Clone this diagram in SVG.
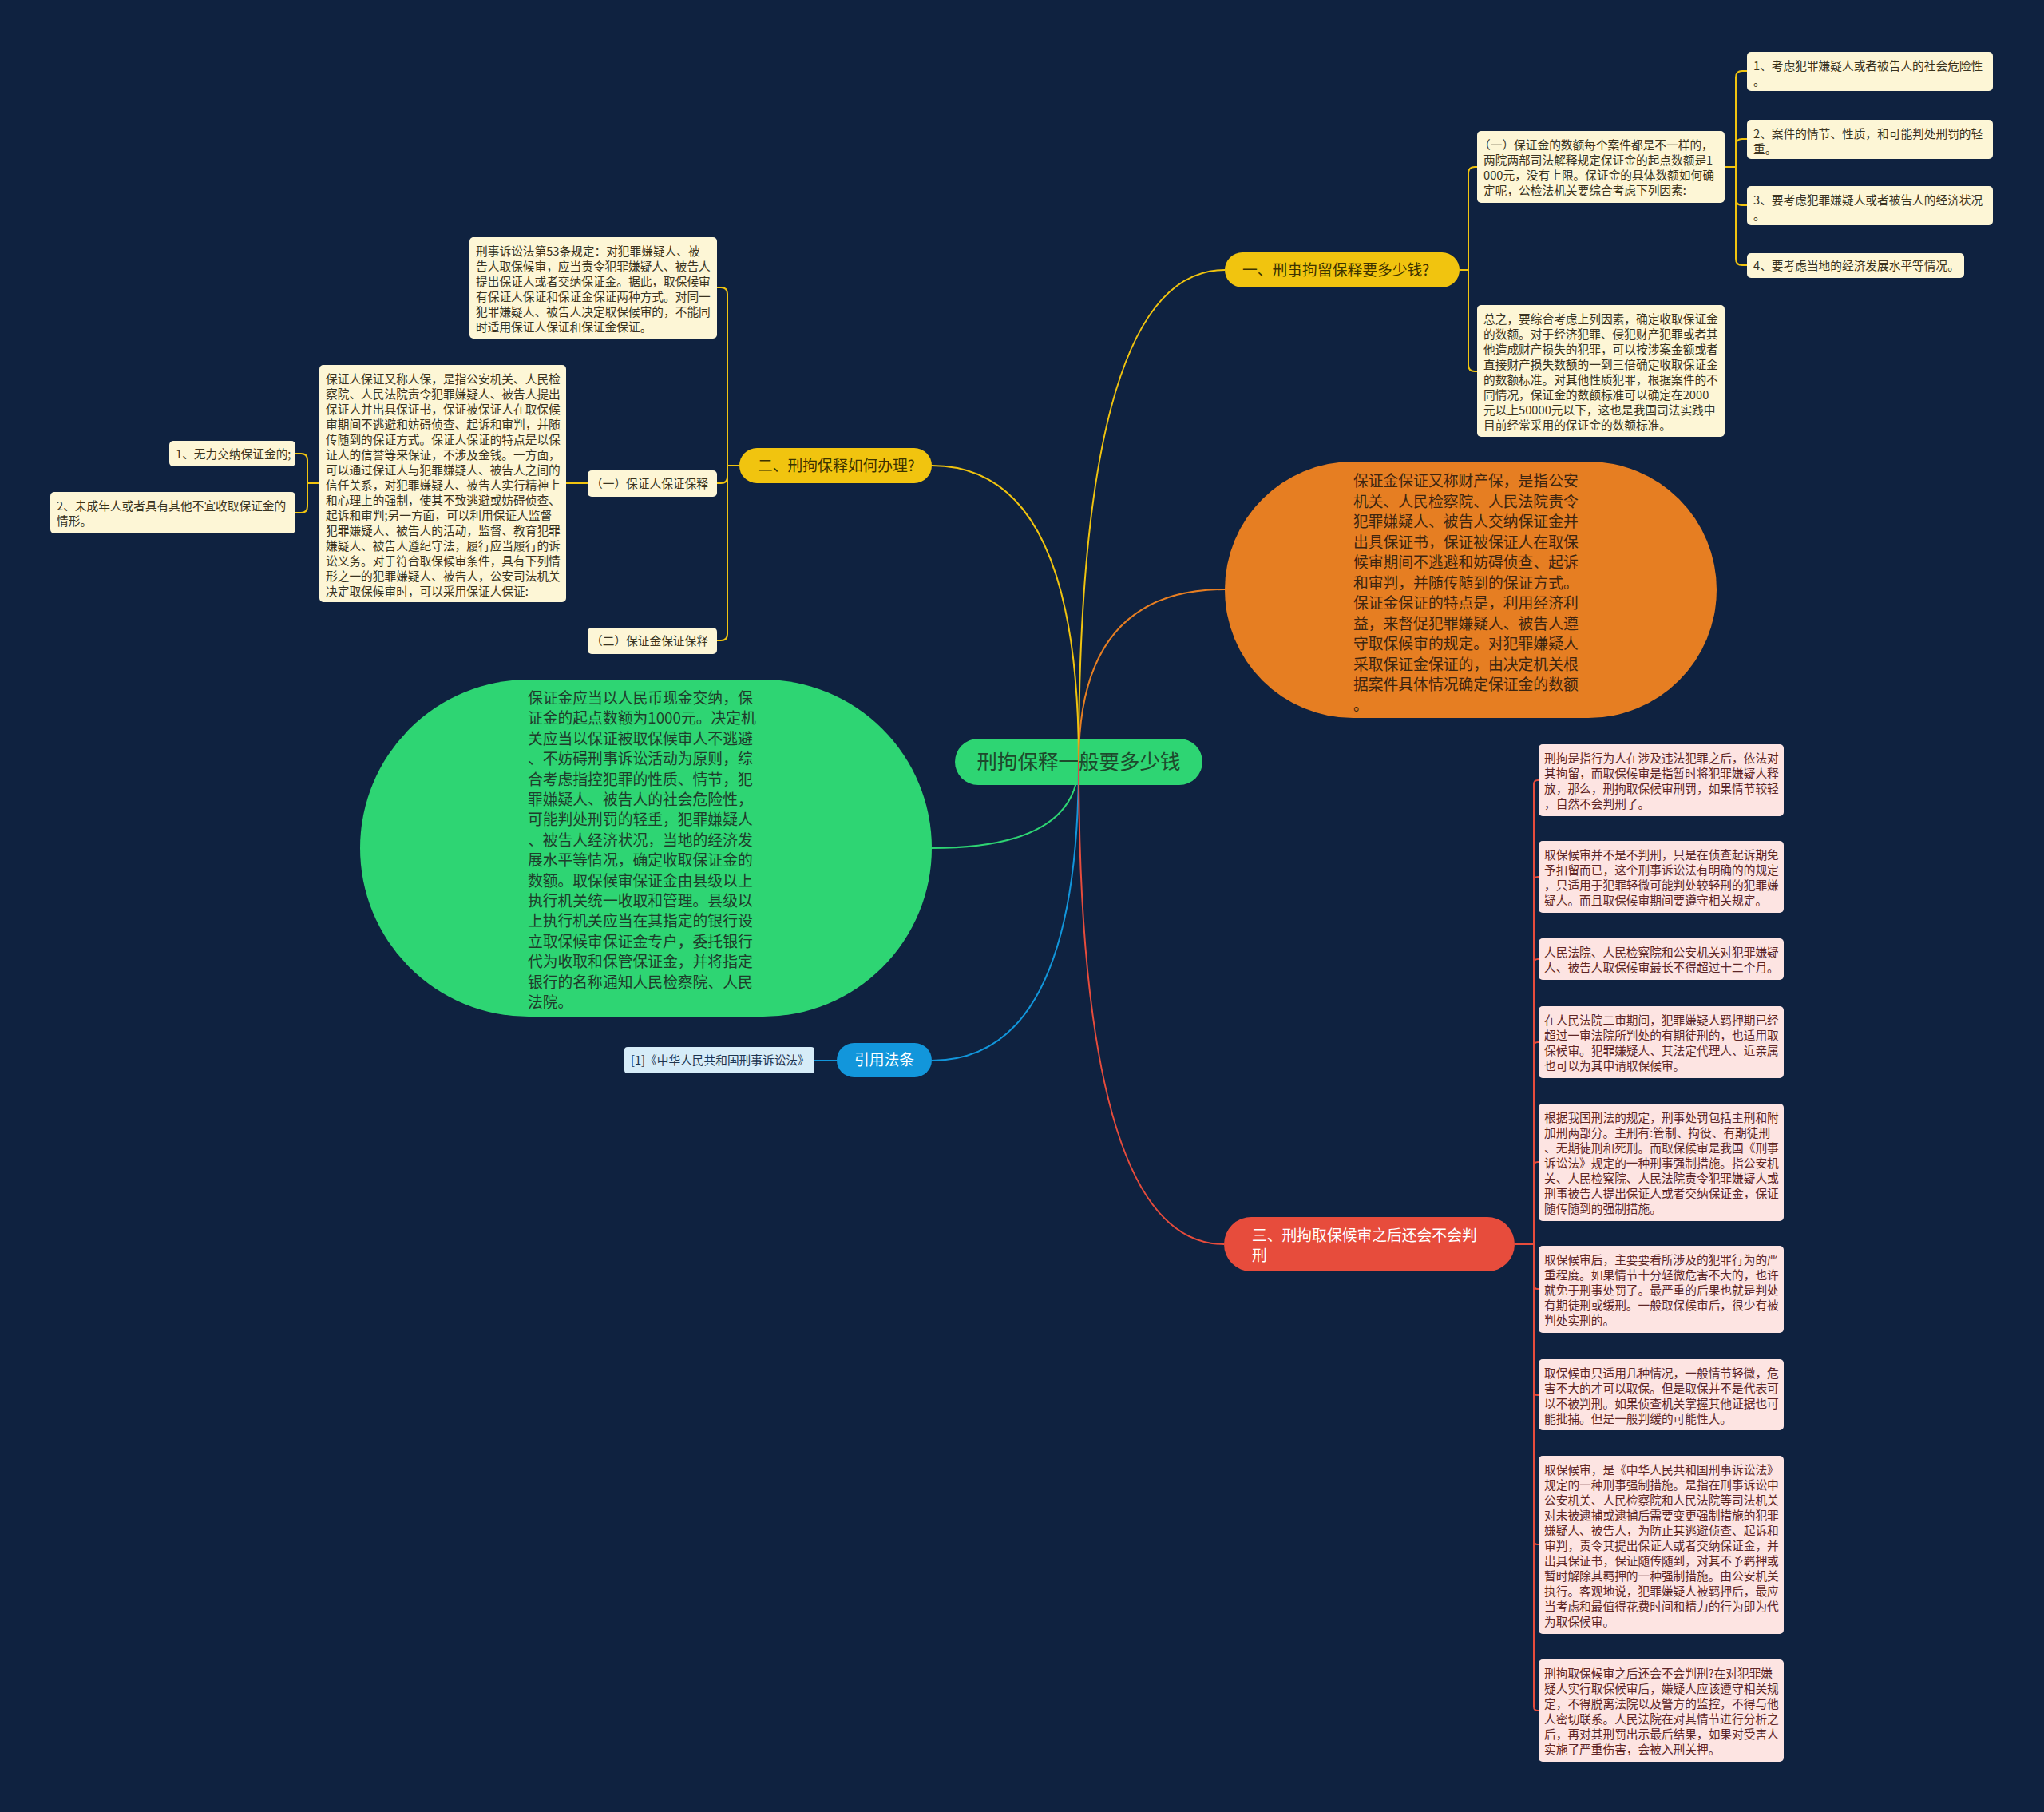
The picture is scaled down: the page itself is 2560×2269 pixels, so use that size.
<svg xmlns="http://www.w3.org/2000/svg" width="2560" height="2269" viewBox="0 0 2560 2269">
<style>
.t{font-family:"Noto Sans CJK SC","Noto Sans",sans-serif;font-size:14.7px}
.big{font-family:"Noto Sans CJK SC","Noto Sans",sans-serif;font-size:18.8px}
.cream{fill:#fdf6d6}
.pink{fill:#fde4e2}
.tc{fill:#3a3320}
.tp{fill:#5e2626}
.c{fill:none;stroke-width:2}
.y{stroke:#f1c40f}
.r{stroke:#e74c3c}
</style>
<rect width="2560" height="2269" fill="#0f2240"/>

<g id="root">
<rect x="1196" y="925" width="310" height="58" rx="29" fill="#2ed573"/>
<text x="1351" y="963" text-anchor="middle" font-family="Noto Sans CJK SC, sans-serif" font-size="25.5" fill="#1d4a2c">刑拘保释一般要多少钱</text>
</g>

<g id="branch1">
<rect x="1534" y="316" width="294" height="44" rx="22" fill="#f1c40f"/>
<text class="big" x="1556" y="345" fill="#3d3300">一、刑事拘留保释要多少钱?</text>
</g>
<g id="b1-sub1">
<rect class="cream" x="1850" y="164" width="310" height="90" rx="5"/>
<text class="t tc" x="1852" y="187"><tspan x="1852">（一）保证金的数额每个案件都是不一样的，</tspan><tspan x="1858" dy="19">两院两部司法解释规定保证金的起点数额是1</tspan><tspan x="1858" dy="19">000元，没有上限。保证金的具体数额如何确</tspan><tspan x="1858" dy="19">定呢，公检法机关要综合考虑下列因素:</tspan></text>
</g>
<g id="b1-a1">
<rect class="cream" x="2188" y="65" width="308" height="49" rx="5"/>
<text class="t tc" x="2196" y="88"><tspan x="2196">1、考虑犯罪嫌疑人或者被告人的社会危险性</tspan><tspan x="2196" dy="19">。</tspan></text>
</g>
<g id="b1-a2">
<rect class="cream" x="2188" y="150" width="308" height="49" rx="5"/>
<text class="t tc" x="2196" y="173"><tspan x="2196">2、案件的情节、性质，和可能判处刑罚的轻</tspan><tspan x="2196" dy="19">重。</tspan></text>
</g>
<g id="b1-a3">
<rect class="cream" x="2188" y="233" width="308" height="49" rx="5"/>
<text class="t tc" x="2196" y="256"><tspan x="2196">3、要考虑犯罪嫌疑人或者被告人的经济状况</tspan><tspan x="2196" dy="19">。</tspan></text>
</g>
<g id="b1-a4">
<rect class="cream" x="2188" y="317" width="272" height="31" rx="5"/>
<text class="t tc" x="2196" y="338">4、要考虑当地的经济发展水平等情况。</text>
</g>
<g id="b1-sub2">
<rect class="cream" x="1850" y="382" width="310" height="165" rx="5"/>
<text class="t tc" x="1858" y="405"><tspan x="1858">总之，要综合考虑上列因素，确定收取保证金</tspan><tspan x="1858" dy="19">的数额。对于经济犯罪、侵犯财产犯罪或者其</tspan><tspan x="1858" dy="19">他造成财产损失的犯罪，可以按涉案金额或者</tspan><tspan x="1858" dy="19">直接财产损失数额的一到三倍确定收取保证金</tspan><tspan x="1858" dy="19">的数额标准。对其他性质犯罪，根据案件的不</tspan><tspan x="1858" dy="19">同情况，保证金的数额标准可以确定在2000</tspan><tspan x="1858" dy="19">元以上50000元以下，这也是我国司法实践中</tspan><tspan x="1858" dy="19">目前经常采用的保证金的数额标准。</tspan></text>
</g>

<g id="branch2">
<rect x="926" y="561" width="241" height="44" rx="22" fill="#f1c40f"/>
<text class="big" x="949" y="590" fill="#3d3300">二、刑拘保释如何办理?</text>
</g>
<g id="b2-law53">
<rect class="cream" x="588" y="297" width="310" height="127" rx="5"/>
<text class="t tc" x="596" y="320"><tspan x="596">刑事诉讼法第53条规定：对犯罪嫌疑人、被</tspan><tspan x="596" dy="19">告人取保候审，应当责令犯罪嫌疑人、被告人</tspan><tspan x="596" dy="19">提出保证人或者交纳保证金。据此，取保候审</tspan><tspan x="596" dy="19">有保证人保证和保证金保证两种方式。对同一</tspan><tspan x="596" dy="19">犯罪嫌疑人、被告人决定取保候审的，不能同</tspan><tspan x="596" dy="19">时适用保证人保证和保证金保证。</tspan></text>
</g>
<g id="b2-sub1">
<rect class="cream" x="736" y="589" width="162" height="33" rx="5"/>
<text class="t tc" x="740" y="611">（一）保证人保证保释</text>
</g>
<g id="b2-sub1-detail">
<rect class="cream" x="400" y="457" width="309" height="297" rx="5"/>
<text class="t tc" x="408" y="480"><tspan x="408">保证人保证又称人保，是指公安机关、人民检</tspan><tspan x="408" dy="19">察院、人民法院责令犯罪嫌疑人、被告人提出</tspan><tspan x="408" dy="19">保证人并出具保证书，保证被保证人在取保候</tspan><tspan x="408" dy="19">审期间不逃避和妨碍侦查、起诉和审判，并随</tspan><tspan x="408" dy="19">传随到的保证方式。保证人保证的特点是以保</tspan><tspan x="408" dy="19">证人的信誉等来保证，不涉及金钱。一方面，</tspan><tspan x="408" dy="19">可以通过保证人与犯罪嫌疑人、被告人之间的</tspan><tspan x="408" dy="19">信任关系，对犯罪嫌疑人、被告人实行精神上</tspan><tspan x="408" dy="19">和心理上的强制，使其不致逃避或妨碍侦查、</tspan><tspan x="408" dy="19">起诉和审判;另一方面，可以利用保证人监督</tspan><tspan x="408" dy="19">犯罪嫌疑人、被告人的活动，监督、教育犯罪</tspan><tspan x="408" dy="19">嫌疑人、被告人遵纪守法，履行应当履行的诉</tspan><tspan x="408" dy="19">讼义务。对于符合取保候审条件，具有下列情</tspan><tspan x="408" dy="19">形之一的犯罪嫌疑人、被告人，公安司法机关</tspan><tspan x="408" dy="19">决定取保候审时，可以采用保证人保证:</tspan></text>
</g>
<g id="b2-item1">
<rect class="cream" x="212" y="552" width="158" height="32" rx="5"/>
<text class="t tc" x="220" y="574">1、无力交纳保证金的;</text>
</g>
<g id="b2-item2">
<rect class="cream" x="63" y="616" width="307" height="52" rx="5"/>
<text class="t tc" x="71" y="639"><tspan x="71">2、未成年人或者具有其他不宜收取保证金的</tspan><tspan x="71" dy="19">情形。</tspan></text>
</g>
<g id="b2-sub2">
<rect class="cream" x="736" y="786" width="162" height="33" rx="5"/>
<text class="t tc" x="740" y="808">（二）保证金保证保释</text>
</g>

<g id="orange-node">
<rect x="1534" y="578" width="616" height="321" rx="160.5" fill="#e67e22"/>
<text class="big" x="1695" y="609" fill="#3d2510"><tspan x="1695">保证金保证又称财产保，是指公安</tspan><tspan x="1695" dy="25.5">机关、人民检察院、人民法院责令</tspan><tspan x="1695" dy="25.5">犯罪嫌疑人、被告人交纳保证金并</tspan><tspan x="1695" dy="25.5">出具保证书，保证被保证人在取保</tspan><tspan x="1695" dy="25.5">候审期间不逃避和妨碍侦查、起诉</tspan><tspan x="1695" dy="25.5">和审判，并随传随到的保证方式。</tspan><tspan x="1695" dy="25.5">保证金保证的特点是，利用经济利</tspan><tspan x="1695" dy="25.5">益，来督促犯罪嫌疑人、被告人遵</tspan><tspan x="1695" dy="25.5">守取保候审的规定。对犯罪嫌疑人</tspan><tspan x="1695" dy="25.5">采取保证金保证的，由决定机关根</tspan><tspan x="1695" dy="25.5">据案件具体情况确定保证金的数额</tspan><tspan x="1695" dy="25.5">。</tspan></text>
</g>

<g id="green-node">
<rect x="451" y="851" width="716" height="422" rx="211" fill="#2ed573"/>
<text class="big" x="661" y="881" fill="#1f3d2b"><tspan x="661">保证金应当以人民币现金交纳，保</tspan><tspan x="661" dy="25.4">证金的起点数额为1000元。决定机</tspan><tspan x="661" dy="25.4">关应当以保证被取保候审人不逃避</tspan><tspan x="661" dy="25.4">、不妨碍刑事诉讼活动为原则，综</tspan><tspan x="661" dy="25.4">合考虑指控犯罪的性质、情节，犯</tspan><tspan x="661" dy="25.4">罪嫌疑人、被告人的社会危险性，</tspan><tspan x="661" dy="25.4">可能判处刑罚的轻重，犯罪嫌疑人</tspan><tspan x="661" dy="25.4">、被告人经济状况，当地的经济发</tspan><tspan x="661" dy="25.4">展水平等情况，确定收取保证金的</tspan><tspan x="661" dy="25.4">数额。取保候审保证金由县级以上</tspan><tspan x="661" dy="25.4">执行机关统一收取和管理。县级以</tspan><tspan x="661" dy="25.4">上执行机关应当在其指定的银行设</tspan><tspan x="661" dy="25.4">立取保候审保证金专户，委托银行</tspan><tspan x="661" dy="25.4">代为收取和保管保证金，并将指定</tspan><tspan x="661" dy="25.4">银行的名称通知人民检察院、人民</tspan><tspan x="661" dy="25.4">法院。</tspan></text>
</g>

<g id="cite">
<rect x="1048" y="1306" width="119" height="43" rx="21.5" fill="#1296db"/>
<text class="big" x="1107.5" y="1334" text-anchor="middle" fill="#ffffff">引用法条</text>
</g>
<g id="cite-item">
<rect x="782" y="1311" width="238" height="33" rx="4" fill="#d6ecf8"/>
<text class="t" x="790" y="1333" fill="#1d3550">[1]《中华人民共和国刑事诉讼法》</text>
</g>

<g id="branch3">
<rect x="1533" y="1524" width="364" height="68" rx="34" fill="#e74c3c"/>
<text class="big" x="1568" y="1554" fill="#ffffff"><tspan x="1568">三、刑拘取保候审之后还会不会判</tspan><tspan x="1568" dy="25">刑</tspan></text>
</g>
<g id="b3-r1">
<rect class="pink" x="1927" y="932" width="307" height="90" rx="5"/>
<text class="t tp" x="1934" y="955"><tspan x="1934">刑拘是指行为人在涉及违法犯罪之后，依法对</tspan><tspan x="1934" dy="19">其拘留，而取保候审是指暂时将犯罪嫌疑人释</tspan><tspan x="1934" dy="19">放，那么，刑拘取保候审刑罚，如果情节较轻</tspan><tspan x="1934" dy="19">，自然不会判刑了。</tspan></text>
</g>
<g id="b3-r2">
<rect class="pink" x="1927" y="1053" width="307" height="90" rx="5"/>
<text class="t tp" x="1934" y="1076"><tspan x="1934">取保候审并不是不判刑，只是在侦查起诉期免</tspan><tspan x="1934" dy="19">予扣留而已，这个刑事诉讼法有明确的的规定</tspan><tspan x="1934" dy="19">，只适用于犯罪轻微可能判处较轻刑的犯罪嫌</tspan><tspan x="1934" dy="19">疑人。而且取保候审期间要遵守相关规定。</tspan></text>
</g>
<g id="b3-r3">
<rect class="pink" x="1927" y="1175" width="307" height="52" rx="5"/>
<text class="t tp" x="1934" y="1198"><tspan x="1934">人民法院、人民检察院和公安机关对犯罪嫌疑</tspan><tspan x="1934" dy="19">人、被告人取保候审最长不得超过十二个月。</tspan></text>
</g>
<g id="b3-r4">
<rect class="pink" x="1927" y="1260" width="307" height="90" rx="5"/>
<text class="t tp" x="1934" y="1283"><tspan x="1934">在人民法院二审期间，犯罪嫌疑人羁押期已经</tspan><tspan x="1934" dy="19">超过一审法院所判处的有期徒刑的，也适用取</tspan><tspan x="1934" dy="19">保候审。犯罪嫌疑人、其法定代理人、近亲属</tspan><tspan x="1934" dy="19">也可以为其申请取保候审。</tspan></text>
</g>
<g id="b3-r5">
<rect class="pink" x="1927" y="1382" width="307" height="147" rx="5"/>
<text class="t tp" x="1934" y="1405"><tspan x="1934">根据我国刑法的规定，刑事处罚包括主刑和附</tspan><tspan x="1934" dy="19">加刑两部分。主刑有:管制、拘役、有期徒刑</tspan><tspan x="1934" dy="19">、无期徒刑和死刑。而取保候审是我国《刑事</tspan><tspan x="1934" dy="19">诉讼法》规定的一种刑事强制措施。指公安机</tspan><tspan x="1934" dy="19">关、人民检察院、人民法院责令犯罪嫌疑人或</tspan><tspan x="1934" dy="19">刑事被告人提出保证人或者交纳保证金，保证</tspan><tspan x="1934" dy="19">随传随到的强制措施。</tspan></text>
</g>
<g id="b3-r6">
<rect class="pink" x="1927" y="1560" width="307" height="109" rx="5"/>
<text class="t tp" x="1934" y="1583"><tspan x="1934">取保候审后，主要要看所涉及的犯罪行为的严</tspan><tspan x="1934" dy="19">重程度。如果情节十分轻微危害不大的，也许</tspan><tspan x="1934" dy="19">就免于刑事处罚了。最严重的后果也就是判处</tspan><tspan x="1934" dy="19">有期徒刑或缓刑。一般取保候审后，很少有被</tspan><tspan x="1934" dy="19">判处实刑的。</tspan></text>
</g>
<g id="b3-r7">
<rect class="pink" x="1927" y="1702" width="307" height="89" rx="5"/>
<text class="t tp" x="1934" y="1725"><tspan x="1934">取保候审只适用几种情况，一般情节轻微，危</tspan><tspan x="1934" dy="19">害不大的才可以取保。但是取保并不是代表可</tspan><tspan x="1934" dy="19">以不被判刑。如果侦查机关掌握其他证据也可</tspan><tspan x="1934" dy="19">能批捕。但是一般判缓的可能性大。</tspan></text>
</g>
<g id="b3-r8">
<rect class="pink" x="1927" y="1823" width="307" height="223" rx="5"/>
<text class="t tp" x="1934" y="1846"><tspan x="1934">取保候审，是《中华人民共和国刑事诉讼法》</tspan><tspan x="1934" dy="19">规定的一种刑事强制措施。是指在刑事诉讼中</tspan><tspan x="1934" dy="19">公安机关、人民检察院和人民法院等司法机关</tspan><tspan x="1934" dy="19">对未被逮捕或逮捕后需要变更强制措施的犯罪</tspan><tspan x="1934" dy="19">嫌疑人、被告人，为防止其逃避侦查、起诉和</tspan><tspan x="1934" dy="19">审判，责令其提出保证人或者交纳保证金，并</tspan><tspan x="1934" dy="19">出具保证书，保证随传随到，对其不予羁押或</tspan><tspan x="1934" dy="19">暂时解除其羁押的一种强制措施。由公安机关</tspan><tspan x="1934" dy="19">执行。客观地说，犯罪嫌疑人被羁押后，最应</tspan><tspan x="1934" dy="19">当考虑和最值得花费时间和精力的行为即为代</tspan><tspan x="1934" dy="19">为取保候审。</tspan></text>
</g>
<g id="b3-r9">
<rect class="pink" x="1927" y="2078" width="307" height="128" rx="5"/>
<text class="t tp" x="1934" y="2101"><tspan x="1934">刑拘取保候审之后还会不会判刑?在对犯罪嫌</tspan><tspan x="1934" dy="19">疑人实行取保候审后，嫌疑人应该遵守相关规</tspan><tspan x="1934" dy="19">定，不得脱离法院以及警方的监控，不得与他</tspan><tspan x="1934" dy="19">人密切联系。人民法院在对其情节进行分析之</tspan><tspan x="1934" dy="19">后，再对其刑罚出示最后结果，如果对受害人</tspan><tspan x="1934" dy="19">实施了严重伤害，会被入刑关押。</tspan></text>
</g>

<g id="connectors">
<path class="c y" d="M1351,954 Q1351,338 1534,338"/>
<path class="c y" d="M1351,954 Q1351,583 1167,583"/>
<path class="c" stroke="#e67e22" d="M1351,954 Q1351,738 1534,738"/>
<path class="c" stroke="#2ed573" d="M1351,954 Q1351,1062 1167,1062"/>
<path class="c" stroke="#1296db" d="M1351,954 Q1351,1328 1167,1328"/>
<path class="c" stroke="#e74c3c" d="M1351,954 Q1351,1558 1533,1558"/>

<path class="c y" d="M1828,338 H1839 V217 Q1839,209 1847,209 H1850"/>
<path class="c y" d="M1828,338 H1839 V457 Q1839,465 1847,465 H1850"/>

<path class="c y" d="M2160,209 H2174 V97 Q2174,89 2182,89 H2188"/>
<path class="c y" d="M2160,209 H2174 V182 Q2174,174 2182,174 H2188"/>
<path class="c y" d="M2160,209 H2174 V249 Q2174,257 2182,257 H2188"/>
<path class="c y" d="M2160,209 H2174 V324 Q2174,332 2182,332 H2188"/>

<path class="c y" d="M926,583 H911 V368 Q911,360 903,360 H898"/>
<path class="c y" d="M926,583 H911 V597 Q911,605 903,605 H898"/>
<path class="c y" d="M926,583 H911 V794 Q911,802 903,802 H898"/>

<path class="c y" d="M736,605 H709"/>

<path class="c y" d="M400,605 H385 V576 Q385,568 377,568 H370"/>
<path class="c y" d="M400,605 H385 V634 Q385,642 377,642 H370"/>

<path class="c" stroke="#1296db" d="M1048,1328 H1020"/>

<path class="c r" d="M1897,1558 H1921 V982 Q1921,977 1926,977 H1927"/>
<path class="c r" d="M1897,1558 H1921 V1103 Q1921,1098 1926,1098 H1927"/>
<path class="c r" d="M1897,1558 H1921 V1206 Q1921,1201 1926,1201 H1927"/>
<path class="c r" d="M1897,1558 H1921 V1310 Q1921,1305 1926,1305 H1927"/>
<path class="c r" d="M1897,1558 H1921 V1460 Q1921,1455 1926,1455 H1927"/>
<path class="c r" d="M1897,1558 H1921 V1609 Q1921,1614 1926,1614 H1927"/>
<path class="c r" d="M1897,1558 H1921 V1742 Q1921,1747 1926,1747 H1927"/>
<path class="c r" d="M1897,1558 H1921 V1929 Q1921,1934 1926,1934 H1927"/>
<path class="c r" d="M1897,1558 H1921 V2137 Q1921,2142 1926,2142 H1927"/>
</g>
</svg>
